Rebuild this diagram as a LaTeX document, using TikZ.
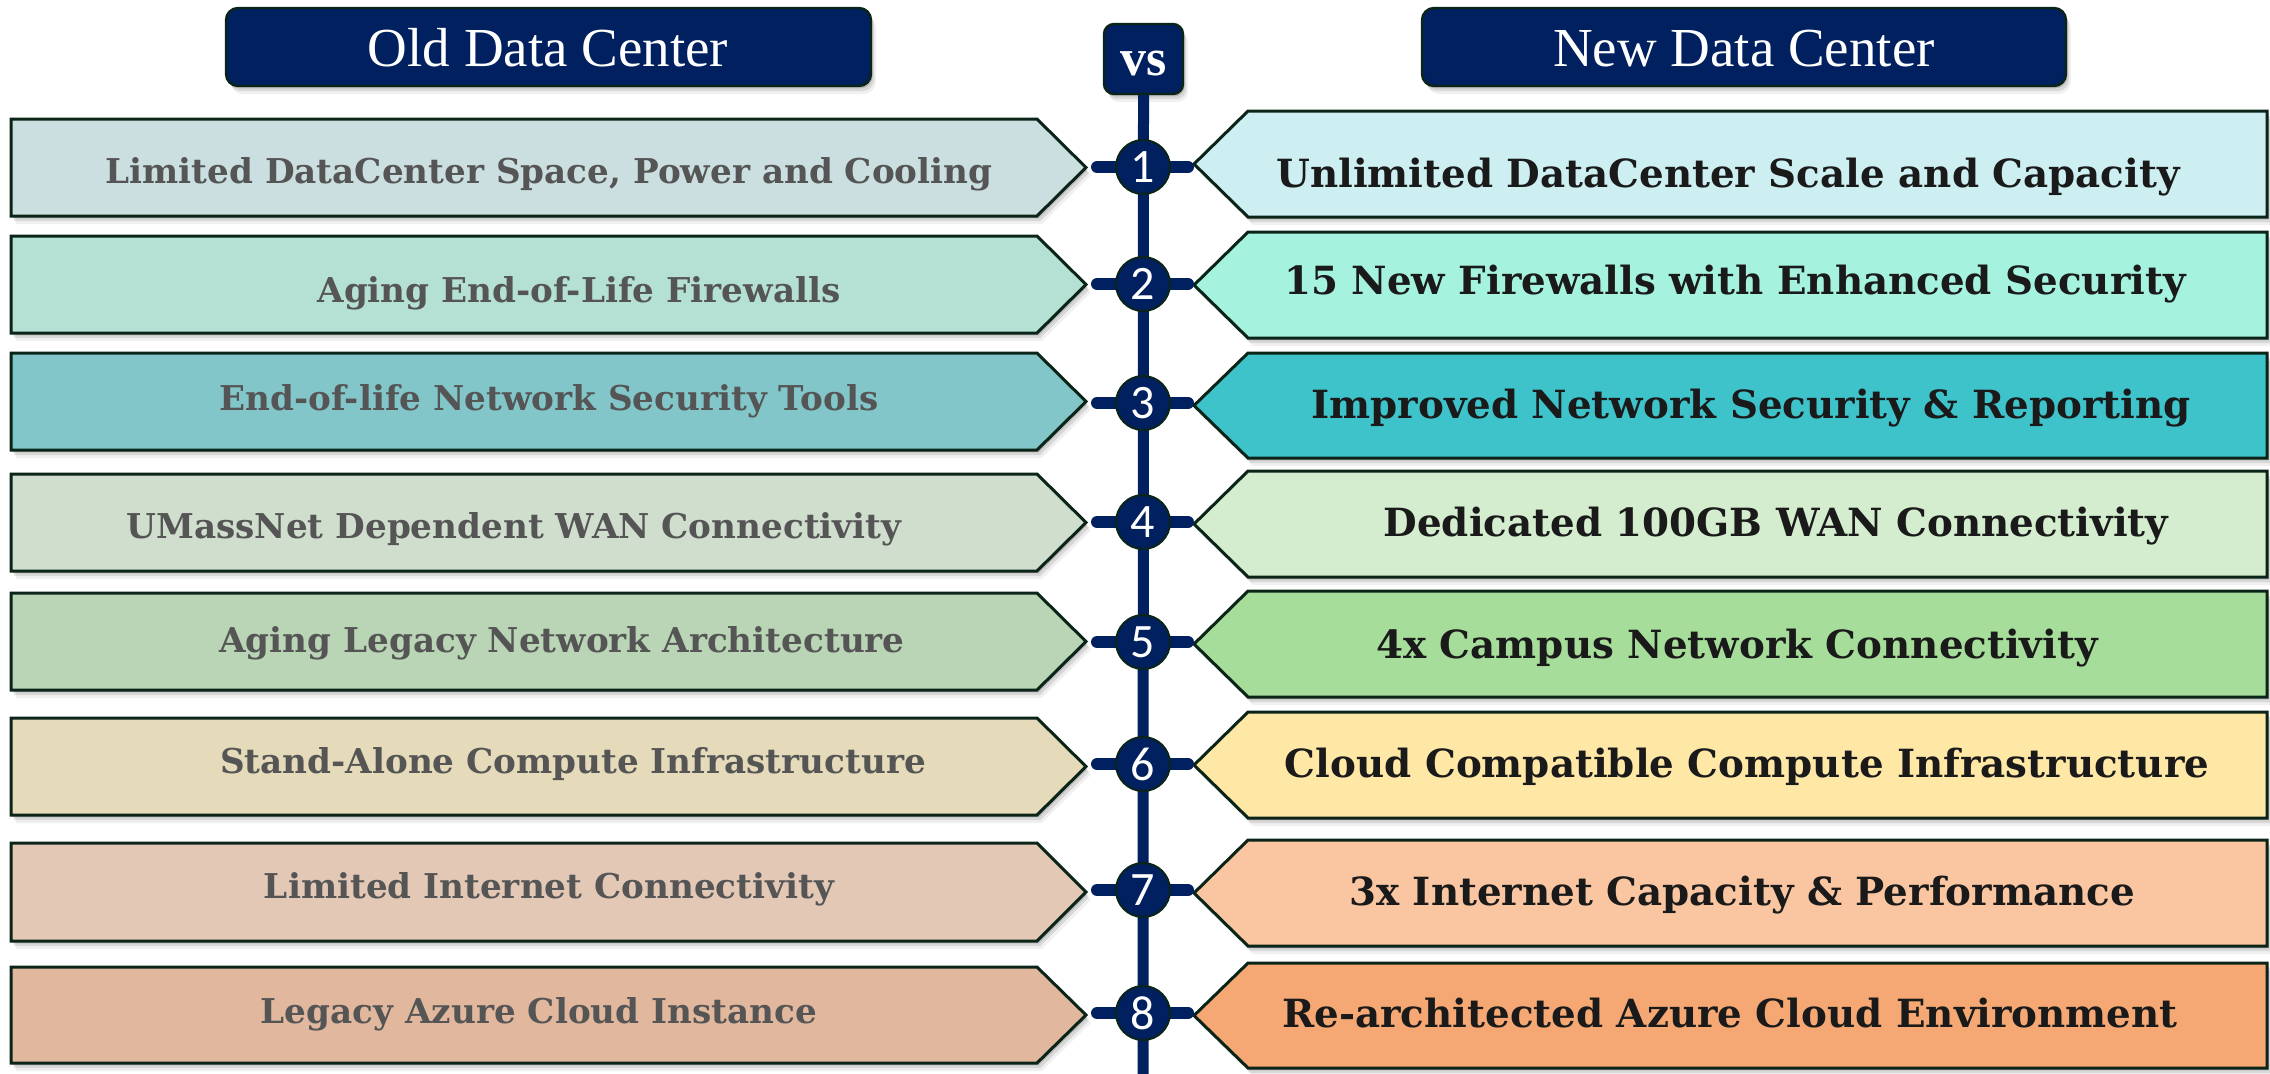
\documentclass[tikz,border=0pt]{standalone}
\usepackage{fontspec}
\setmainfont{DejaVu Serif}
\newfontfamily\titlefont{Liberation Serif}
\newfontfamily\numfont{Carlito}
\usetikzlibrary{shadows}
\definecolor{navy}{HTML}{002060}
\definecolor{outl}{HTML}{0B2418}
\definecolor{lgray}{HTML}{555555}
\definecolor{dtext}{HTML}{1A1A1A}
\definecolor{La}{HTML}{CBDFE0}
\definecolor{Lb}{HTML}{B5E1D5}
\definecolor{Lc}{HTML}{82C6CA}
\definecolor{Ld}{HTML}{CFDECD}
\definecolor{Le}{HTML}{B9D5B5}
\definecolor{Lf}{HTML}{E5DBBA}
\definecolor{Lg}{HTML}{E3C8B6}
\definecolor{Lh}{HTML}{E1B79D}
\definecolor{Ra}{HTML}{CDEFF1}
\definecolor{Rb}{HTML}{A5F3DF}
\definecolor{Rc}{HTML}{3EC3CB}
\definecolor{Rd}{HTML}{D3EDCE}
\definecolor{Re}{HTML}{A6DD9A}
\definecolor{Rf}{HTML}{FFE7A6}
\definecolor{Rg}{HTML}{F9C6A1}
\definecolor{Rh}{HTML}{F6A874}
\newcommand\LBox[3]{\path[boxline,fill=#3] (11,#1) -- (1037,#1) -- (1086,{(#1+#2)/2}) -- (1037,#2) -- (11,#2) -- cycle;}
\newcommand\RBox[3]{\path[boxline,fill=#3] (1248,#1) -- (2267,#1) -- (2267,#2) -- (1248,#2) -- (1194,{(#1+#2)/2}) -- cycle;}
\begin{document}
\begin{tikzpicture}[x=0.5pt,y=-0.5pt,
  softshadow/.style={drop shadow={shadow xshift=0.8pt,shadow yshift=-1.2pt,opacity=.14,fill=black},
                     drop shadow={shadow xshift=1.6pt,shadow yshift=-2.6pt,opacity=.10,fill=black},
                     drop shadow={shadow xshift=2.4pt,shadow yshift=-4pt,opacity=.06,fill=black}},
  boxline/.style={softshadow,draw=outl,line width=1.5pt,line join=miter},
  header/.style={softshadow,draw=outl,line width=1.2pt,fill=navy,rounded corners=6pt},
  ltext/.style={anchor=base,inner sep=0pt,text=lgray,font=\fontsize{17.1}{20}\selectfont\bfseries},
  rtext/.style={anchor=base,inner sep=0pt,text=dtext,font=\fontsize{19.4}{23}\selectfont\bfseries},
  ttext/.style={anchor=base,inner sep=0pt,text=white,font=\titlefont\fontsize{27.5}{30}\selectfont},
  numc/.style={circle,fill=navy,draw=outl,line width=1pt,minimum size=27pt,inner sep=0pt,text=white,font=\numfont\fontsize{24}{24}\selectfont},
  spine/.style={navy,line width=5.5pt},
  stub/.style={navy,line width=6pt,line cap=round}]
\useasboundingbox (0,0) rectangle (2270,1073);
% headers
\path[header] (226,8) rectangle (871,86);
\path[header] (1422,8) rectangle (2066,86);
\node[ttext] (hold) at (548,66) {Old Data Center};
\node[ttext] (hnew) at (1744,66) {New Data Center};
% vs box
\node[header,rounded corners=5pt,minimum width=39.5pt,minimum height=35pt,inner sep=0pt] (vs) at (1143.5,59) {};
\node[ttext,font=\titlefont\bfseries\fontsize{26}{26}\selectfont] (vstext) at (1143.5,75) {vs};
% spine
\coordinate (bot) at (1143,1085);
\draw[spine] (vs.south) -- (bot);
% left boxes
\LBox{119}{216}{La}
\LBox{236}{333}{Lb}
\LBox{353}{450}{Lc}
\LBox{474}{571}{Ld}
\LBox{593}{690}{Le}
\LBox{718}{815}{Lf}
\LBox{843}{941}{Lg}
\LBox{967}{1063}{Lh}
% right boxes
\RBox{111}{217}{Ra}
\RBox{232}{338}{Rb}
\RBox{353}{458}{Rc}
\RBox{471}{577}{Rd}
\RBox{591}{697}{Re}
\RBox{712}{818}{Rf}
\RBox{840}{946}{Rg}
\RBox{963}{1068}{Rh}
% stubs and circles
\foreach \n/\y in {1/167,2/284,3/403,4/522,5/642,6/764,7/890,8/1013}{
  \coordinate (sa\n) at (1097,\y);
  \coordinate (sb\n) at (1188,\y);
  \draw[stub] (sa\n) -- (sb\n);
  \node[numc] (c\n) at (1143,\y) {\n};
}
% left texts
\node[ltext] (l1) at (549,183) {Limited DataCenter Space, Power and Cooling};
\node[ltext] (l2) at (579,302) {Aging End-of-Life Firewalls};
\node[ltext] (l3) at (549,410) {End-of-life Network Security Tools};
\node[ltext] (l4) at (514,538) {UMassNet Dependent WAN Connectivity};
\node[ltext] (l5) at (562,652) {Aging Legacy Network Architecture};
\node[ltext] (l6) at (573,773) {Stand-Alone Compute Infrastructure};
\node[ltext] (l7) at (549,898) {Limited Internet Connectivity};
\node[ltext] (l8) at (539,1023) {Legacy Azure Cloud Instance};
% right texts
\node[rtext] (r1) at (1728,187) {Unlimited DataCenter Scale and Capacity};
\node[rtext] (r2) at (1735,294) {15 New Firewalls with Enhanced Security};
\node[rtext] (r3) at (1751,418) {Improved Network Security \& Reporting};
\node[rtext] (r4) at (1776,536) {Dedicated 100GB WAN Connectivity};
\node[rtext] (r5) at (1737,658) {4x Campus Network Connectivity};
\node[rtext] (r6) at (1747,777) {Cloud Compatible Compute Infrastructure};
\node[rtext] (r7) at (1742,905) {3x Internet Capacity \& Performance};
\node[rtext] (r8) at (1730,1027) {Re-architected Azure Cloud Environment};
\end{tikzpicture}
\end{document}
